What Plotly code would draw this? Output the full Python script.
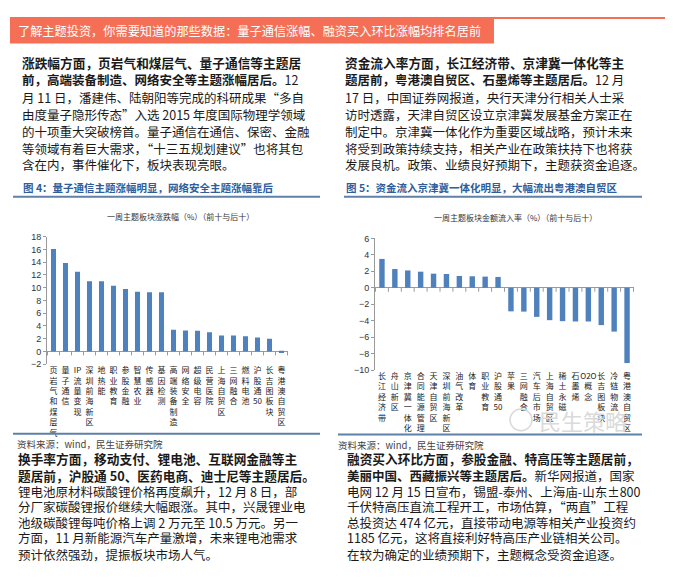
import re
import plotly.graph_objects as go

# ---------------- data ----------------
left_title = "一周主题板块涨跌幅（%）（前十与后十）"
left_categories = ["页岩气和煤层气", "量子通信", "IP流量变现", "深圳前海新区", "地热能",
                   "职业教育", "参股金融", "智慧农业", "传感器", "基因检测",
                   "高端装备制造", "网络安全", "超级电容", "民营医院", "上海自贸区",
                   "三网融合", "燃料电池", "沪股通50", "长吉图板块", "粤港澳自贸区"]
left_values = [16.1, 13.9, 12.5, 11.0, 11.0, 10.3, 9.8, 9.35, 9.3, 9.3,
               3.4, 3.3, 3.25, 3.0, 2.5, 2.5, 2.4, 2.2, 2.0, -0.25]
left_yticks = [-2, 0, 2, 4, 6, 8, 10, 12, 14, 16, 18]

right_title = "一周主题板块金额流入率（%）（前十与后十）"
right_categories = ["长江经济带", "舟山新区", "京津冀一体化", "合同能源管理", "天津自贸区",
                    "深圳前海新区", "油气改革", "体育", "职业教育", "沪股通50",
                    "苹果", "三网融合", "汽车后市场", "上海自贸区", "稀土永磁",
                    "石墨烯", "O2O概念", "长吉图板块", "冷链物流", "粤港澳自贸区"]
right_values = [3.5, 2.27, 2.1, 1.95, 1.71, 1.67, 1.43, 1.39, 1.35, 1.31,
                -2.87, -2.9, -3.54, -3.94, -4.06, -4.1, -4.1, -4.54, -5.33, -9.15]
right_yticks = [-10, -8, -6, -4, -2, 0, 2, 4, 6]

banner_text = "了解主题投资，你需要知道的那些数据：量子通信涨幅、融资买入环比涨幅均排名居前"

top_left_lines = [
    "<b>涨跌幅方面，页岩气和煤层气、量子通信等主题居</b>",
    "<b>前，高端装备制造、网络安全等主题涨幅居后。</b>12",
    "月 11 日，潘建伟、陆朝阳等完成的科研成果“多自",
    "由度量子隐形传态”入选 2015 年度国际物理学领域",
    "的十项重大突破榜首。量子通信在通信、保密、金融",
    "等领域有着巨大需求，“十三五规划建议”也将其包",
    "含在内，事件催化下，板块表现亮眼。",
]
top_right_lines = [
    "<b>资金流入率方面，长江经济带、京津冀一体化等主</b>",
    "<b>题居前，粤港澳自贸区、石墨烯等主题居后。</b>12 月",
    "17 日，中国证券网报道，央行天津分行相关人士采",
    "访时透露，天津自贸区设立京津冀发展基金方案正在",
    "制定中。京津冀一体化作为重要区域战略，预计未来",
    "将受到政策持续支持，相关产业在政策扶持下也将获",
    "发展良机。政策、业绩良好预期下，主题获资金追逐。",
]
bottom_left_lines = [
    "<b>换手率方面，移动支付、锂电池、互联网金融等主</b>",
    "<b>题居前，沪股通 50、医药电商、迪士尼等主题居后。</b>",
    "锂电池原材料碳酸锂价格再度飙升，12 月 8 日，部",
    "分厂家碳酸锂报价继续大幅跟涨。其中，兴晟锂业电",
    "池级碳酸锂每吨价格上调 2 万元至 10.5 万元。另一",
    "方面，11 月新能源汽车产量激增，未来锂电池需求",
    "预计依然强劲，提振板块市场人气。",
]
bottom_right_lines = [
    "<b>融资买入环比方面，参股金融、特高压等主题居前，</b>",
    "<b>美丽中国、西藏振兴等主题居后。</b>新华网报道，国家",
    "电网 12 月 15 日宣布，锡盟-泰州、上海庙-山东±800",
    "千伏特高压直流工程开工，市场估算，“两直”工程",
    "总投资达 474 亿元，直接带动电源等相关产业投资约",
    "1185 亿元，这将直接利好特高压产业链相关公司。",
    "在较为确定的业绩预期下，主题概念受资金追逐。",
]
caption_left = "图 4：量子通信主题涨幅明显，网络安全主题涨幅靠后"
caption_right = "图 5：资金流入京津冀一体化明显，大幅流出粤港澳自贸区"
source_text = "资料来源：wind，民生证券研究院"
watermark = "民生策略"

# ---------------- helpers ----------------
W, H = 673, 581
CJK = "Noto Sans CJK SC"
BAR = "#4F81BD"
AX = "#9a9a9a"


def fx(x):
    return x / W


def fy(y):
    return 1 - y / H


def vert(s):
    return "<br>".join(re.findall(r"[A-Za-z0-9]+|.", s))


fig = go.Figure()
fig.add_trace(go.Bar(x=[vert(c) for c in left_categories], y=left_values,
                     marker=dict(color=BAR, line=dict(width=0)), width=0.42,
                     xaxis="x", yaxis="y", hoverinfo="y"))
fig.add_trace(go.Bar(x=[vert(c) for c in right_categories], y=right_values,
                     marker=dict(color=BAR, line=dict(width=0)), width=0.42,
                     xaxis="x2", yaxis="y2", hoverinfo="y"))

xcommon = dict(showline=False, showgrid=False, zeroline=False, ticks="",
               tickangle=0, tickfont=dict(family=CJK, size=8, color="#222"),
               fixedrange=True)
ycommon = dict(showline=True, linecolor=AX, linewidth=1, ticks="outside",
               ticklen=3, tickcolor=AX, showgrid=False, zeroline=True,
               zerolinecolor=AX, zerolinewidth=1,
               tickfont=dict(family="Liberation Sans", size=9, color="#333"),
               fixedrange=True)

fig.update_layout(
    width=W, height=H, autosize=False,
    margin=dict(l=0, r=0, t=0, b=0),
    paper_bgcolor="white", plot_bgcolor="white",
    showlegend=False,
    xaxis=dict(domain=[fx(39), fx(280)], anchor="y", **xcommon),
    yaxis=dict(domain=[fy(357.3), fy(227.7)], anchor="x", range=[-2, 18],
               tickvals=left_yticks, **ycommon),
    xaxis2=dict(domain=[fx(367), fx(626)], anchor="y2", **xcommon),
    yaxis2=dict(domain=[fy(363.3), fy(229.3)], anchor="x2", range=[-10, 6],
                tickvals=right_yticks, **ycommon),
)

shapes = []
# category boundary tick marks on the zero line
for xa, ya, n in (("x", "y", len(left_categories)), ("x2", "y2", len(right_categories))):
    for i in range(n + 1):
        shapes.append(dict(type="line", xref=xa, yref=ya, x0=i - 0.5, x1=i - 0.5,
                           ysizemode="pixel", yanchor=0, y0=0, y1=-4,
                           line=dict(color=AX, width=1)))

# banner
shapes.append(dict(type="rect", xref="paper", yref="paper", x0=fx(2), x1=fx(486),
                   y0=fy(31), y1=fy(4), fillcolor="#F46F55", line=dict(width=0), layer="below"))
shapes.append(dict(type="line", xref="paper", yref="paper", x0=fx(486), x1=1,
                   y0=fy(5), y1=fy(5), line=dict(color="#F46F55", width=2)))
# rules under captions and charts
RULE = "#5F80A8"
for (x0, x1, y) in ((5, 312, 187), (336, 634, 187), (5, 312, 428), (330, 634, 429)):
    shapes.append(dict(type="line", xref="paper", yref="paper", x0=fx(x0), x1=fx(x1),
                       y0=fy(y), y1=fy(y), line=dict(color=RULE, width=2)))
# watermark logo circle
shapes.append(dict(type="circle", xref="paper", yref="paper", x0=fx(502), x1=fx(524),
                   y0=fy(425), y1=fy(403), line=dict(color="#dadada", width=1.5)))
fig.update_layout(shapes=shapes)

ann = []


def text(x, y, s, size, color="#1a1a1a", family=CJK, xanchor="left"):
    ann.append(dict(xref="paper", yref="paper", x=fx(x), y=fy(y), text=s,
                    showarrow=False, xanchor=xanchor, yanchor="middle",
                    font=dict(family=family, size=size, color=color)))


text(8, 18, banner_text, 12.2, color="white")

line_y_top = [50, 68, 86, 103, 121, 138, 154]
line_y_bot = [453, 471, 487, 502, 518, 534, 551]
for lines, x0, ys in ((top_left_lines, 12, line_y_top), (top_right_lines, 335, line_y_top),
                      (bottom_left_lines, 8, line_y_bot), (bottom_right_lines, 337, line_y_bot)):
    for s, y in zip(lines, ys):
        size = 12.7 if s.startswith("<b>") and s.endswith("</b>") else 12.5
        text(x0, y, s, size, color="#1a1a1a")

text(13, 178, "<b>" + caption_left + "</b>", 10.5, color="#2F5D9C")
text(336, 178, "<b>" + caption_right + "</b>", 10.5, color="#2F5D9C")
text(172, 207, left_title, 8, color="#333", xanchor="center")
text(507, 208, right_title, 8, color="#333", xanchor="center")
text(7, 439, source_text, 9.5, color="#444")
text(328, 440, source_text, 9.5, color="#444")
text(529, 414, watermark, 22, color="#dadada")

fig.update_layout(annotations=ann)
fig.write_html("out.html")
